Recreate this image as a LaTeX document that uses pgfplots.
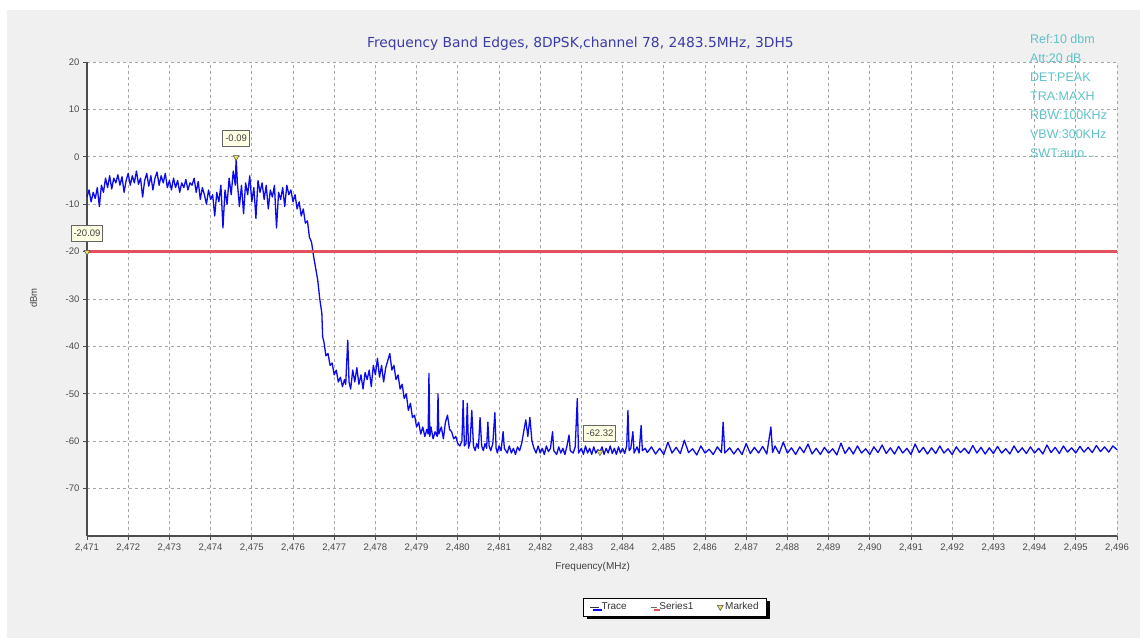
\documentclass[border=0pt]{standalone}
\usepackage{pgfplots}
\pgfplotsset{compat=1.18}
\usepackage{fontspec}
\setmainfont{Liberation Sans}
\newfontfamily\titlefont{DejaVu Sans}
\usetikzlibrary{shadows}
\definecolor{panel}{RGB}{240,240,240}
\definecolor{tracecol}{RGB}{10,10,235}
\definecolor{limitcol}{RGB}{228,80,92}
\definecolor{infocol}{RGB}{95,195,200}
\definecolor{titlecol}{RGB}{60,60,165}
\definecolor{gridcol}{RGB}{165,165,165}
\definecolor{markfill}{RGB}{235,225,90}
\definecolor{boxfill}{RGB}{255,255,228}
\begin{document}
\begin{tikzpicture}[x=1pt,y=1pt]
\path[use as bounding box] (0,0) rectangle (1147,642);
\fill[panel] (7,4) rectangle (1140,632);
\begin{axis}[
  at={(87pt,106pt)}, anchor=south west, scale only axis,
  width=1030pt, height=474pt,
  xmin=0, xmax=25, ymin=-80, ymax=20,
  clip=false,
  axis background/.style={fill=white},
  axis x line*=bottom, axis y line*=left,
  axis line style={line width=2.4pt, color=black!70, -},
  tick align=outside, major tick length=4pt,
  tick style={color=black!70, line width=0.6pt},
  grid=major,
  major grid style={gridcol, dash pattern=on 3pt off 3pt, line width=0.7pt},
  xtick={0,1,...,25},
  xticklabels={{2,471},{2,472},{2,473},{2,474},{2,475},{2,476},{2,477},{2,478},{2,479},{2,480},{2,481},{2,482},{2,483},{2,484},{2,485},{2,486},{2,487},{2,488},{2,489},{2,490},{2,491},{2,492},{2,493},{2,494},{2,495},{2,496}},
  ytick={-70,-60,-50,-40,-30,-20,-10,0,10,20},
  yticklabels={-70,-60,-50,-40,-30,-20,-10,0,10,20},
  tick label style={font=\fontsize{9.5}{11}\selectfont, text=black!70},
  xlabel={Frequency(MHz)},
  xlabel style={at={(axis description cs:0.491,-0.065)}, anchor=center, font=\fontsize{10}{12}\selectfont, text=black!75},
  ylabel={dBm},
  ylabel style={at={(axis description cs:-0.052,0.502)}, anchor=center, font=\fontsize{9.5}{11}\selectfont, text=black!75},
  legend columns=3,
  legend style={at={(axis description cs:0.571,-0.150)}, anchor=center,
    draw=black, fill=white, font=\fontsize{10}{12}\selectfont, text=black!80,
    drop shadow={shadow xshift=3pt, shadow yshift=-3pt, opacity=1, fill=black},
    inner xsep=6pt, inner ysep=2.5pt,
    /tikz/every even column/.append style={column sep=22pt}},
]
\addplot[tracecol, line width=1.3pt, line join=round,
  legend image code/.code={\draw[black!80, line width=0.9pt] (0pt,0pt) -- (9pt,0pt);}]
table {
x y
0.00 -8.5
0.05 -7.0
0.10 -9.5
0.15 -7.5
0.20 -8.8
0.25 -6.5
0.30 -10.5
0.35 -6.0
0.40 -7.5
0.45 -4.5
0.50 -6.5
0.55 -4.0
0.60 -6.8
0.65 -4.5
0.70 -5.5
0.75 -3.8
0.80 -6.0
0.85 -4.2
0.90 -7.5
0.95 -5.0
1.00 -3.5
1.05 -6.0
1.10 -4.0
1.15 -5.5
1.20 -3.0
1.25 -5.8
1.30 -4.5
1.35 -8.5
1.40 -5.0
1.45 -3.5
1.50 -6.2
1.55 -4.0
1.60 -7.0
1.65 -4.5
1.70 -3.2
1.75 -6.0
1.80 -4.0
1.85 -5.5
1.90 -3.5
1.95 -6.5
2.00 -5.0
2.05 -7.0
2.10 -4.5
2.15 -6.5
2.20 -5.0
2.25 -7.5
2.30 -5.5
2.35 -6.5
2.40 -4.8
2.45 -7.0
2.50 -5.5
2.55 -6.0
2.60 -4.5
2.65 -7.5
2.70 -5.2
2.75 -9.0
2.80 -6.5
2.85 -8.0
2.90 -10.0
2.95 -7.0
3.00 -9.0
3.05 -8.0
3.10 -12.5
3.15 -7.5
3.20 -9.5
3.25 -6.0
3.30 -15.0
3.35 -7.0
3.40 -10.0
3.45 -4.5
3.50 -8.0
3.55 -3.0
3.60 -6.0
3.62 -0.09
3.65 -5.5
3.70 -10.5
3.75 -6.0
3.80 -12.0
3.85 -5.5
3.90 -8.0
3.95 -4.0
4.00 -9.5
4.05 -6.5
4.10 -13.0
4.15 -5.0
4.20 -7.5
4.25 -5.5
4.30 -9.0
4.35 -6.0
4.40 -11.0
4.45 -7.0
4.50 -8.5
4.55 -6.0
4.60 -15.0
4.65 -7.5
4.70 -9.0
4.75 -6.5
4.80 -10.5
4.85 -6.0
4.90 -8.0
4.95 -7.0
5.00 -9.5
5.05 -8.0
5.10 -11.0
5.15 -9.5
5.20 -12.5
5.25 -11.0
5.30 -14.0
5.35 -13.5
5.40 -17.0
5.45 -18.0
5.50 -21.0
5.55 -23.5
5.60 -26.0
5.65 -30.0
5.70 -33.0
5.72 -38.0
5.75 -39.0
5.80 -42.0
5.85 -41.5
5.90 -44.0
5.95 -43.5
6.00 -46.0
6.05 -45.0
6.10 -47.5
6.15 -46.5
6.20 -48.5
6.25 -47.0
6.28 -48.0
6.30 -44.0
6.33 -38.7
6.36 -47.5
6.40 -49.0
6.45 -45.0
6.50 -47.5
6.55 -44.5
6.60 -48.0
6.65 -46.0
6.70 -49.0
6.75 -45.5
6.80 -47.0
6.85 -45.0
6.90 -48.5
6.95 -44.0
7.00 -46.0
7.05 -42.5
7.10 -46.5
7.15 -44.0
7.20 -47.5
7.25 -44.5
7.30 -43.0
7.35 -41.5
7.40 -45.0
7.45 -44.0
7.50 -47.0
7.55 -46.0
7.60 -49.0
7.65 -48.0
7.70 -51.0
7.75 -50.0
7.80 -53.5
7.85 -52.0
7.90 -55.0
7.95 -54.5
8.00 -57.0
8.05 -56.0
8.10 -58.5
8.15 -57.0
8.20 -59.0
8.25 -57.5
8.28 -58.5
8.30 -45.7
8.32 -59.0
8.35 -57.0
8.40 -59.5
8.45 -58.0
8.50 -59.0
8.52 -50.0
8.54 -58.5
8.60 -57.0
8.65 -59.5
8.70 -56.0
8.75 -54.5
8.80 -57.5
8.85 -58.0
8.90 -59.5
8.95 -59.0
9.00 -60.5
9.05 -61.0
9.10 -60.0
9.13 -51.4
9.16 -61.0
9.20 -60.5
9.23 -52.0
9.26 -61.5
9.30 -60.0
9.34 -53.5
9.38 -61.0
9.42 -62.0
9.46 -60.5
9.50 -61.5
9.54 -55.0
9.58 -61.0
9.62 -62.0
9.66 -60.5
9.70 -61.5
9.73 -56.0
9.76 -61.0
9.80 -62.0
9.85 -60.5
9.90 -54.0
9.93 -61.5
9.96 -62.5
10.00 -61.0
10.05 -62.0
10.10 -58.0
10.13 -61.5
10.20 -62.5
10.25 -61.0
10.30 -62.5
10.35 -61.5
10.40 -62.8
10.45 -61.2
10.50 -62.0
10.55 -60.5
10.60 -58.0
10.65 -55.5
10.70 -59.0
10.75 -55.0
10.80 -60.0
10.85 -61.5
10.90 -62.5
10.95 -61.0
11.00 -62.5
11.05 -61.5
11.10 -62.8
11.15 -61.0
11.20 -62.2
11.25 -61.5
11.30 -58.0
11.33 -62.0
11.40 -62.8
11.45 -61.2
11.50 -62.5
11.55 -61.5
11.60 -62.8
11.65 -61.0
11.70 -58.7
11.73 -62.0
11.80 -62.5
11.85 -61.2
11.90 -51.0
11.93 -62.5
12.00 -61.5
12.05 -62.8
12.10 -61.0
12.15 -62.5
12.20 -61.5
12.25 -62.8
12.30 -61.2
12.35 -62.5
12.40 -61.8
12.45 -62.3
12.50 -61.2
12.55 -62.8
12.60 -61.5
12.65 -62.5
12.70 -61.0
12.75 -62.6
12.80 -61.5
12.85 -62.8
12.90 -61.2
12.95 -62.5
13.00 -61.5
13.05 -62.6
13.10 -61.0
13.13 -53.5
13.16 -62.0
13.20 -61.5
13.25 -58.0
13.28 -62.5
13.35 -61.2
13.40 -62.5
13.45 -56.7
13.48 -62.0
13.55 -61.5
13.60 -62.4
13.70 -61.2
13.80 -62.7
13.90 -61.5
14.00 -62.8
14.10 -60.2
14.20 -62.5
14.30 -61.3
14.40 -62.6
14.50 -59.8
14.60 -62.4
14.70 -61.6
14.80 -62.9
14.90 -61.0
15.00 -62.5
15.10 -61.7
15.20 -62.8
15.30 -61.2
15.40 -62.4
15.44 -56.0
15.48 -62.5
15.60 -61.4
15.70 -62.7
15.80 -61.5
15.90 -62.8
16.00 -60.5
16.10 -62.6
16.20 -61.3
16.30 -62.5
16.40 -61.1
16.50 -62.7
16.60 -57.0
16.64 -62.4
16.70 -61.0
16.80 -62.6
16.90 -60.2
17.00 -62.5
17.10 -61.4
17.20 -62.8
17.30 -61.2
17.40 -62.4
17.50 -60.6
17.60 -62.7
17.70 -61.5
17.80 -62.8
17.90 -61.3
18.00 -62.5
18.10 -61.6
18.20 -62.9
18.30 -60.4
18.40 -62.6
18.50 -61.3
18.60 -62.7
18.70 -61.0
18.80 -62.5
18.90 -61.6
19.00 -62.8
19.10 -61.2
19.20 -62.4
19.30 -60.8
19.40 -62.6
19.50 -61.4
19.60 -62.7
19.70 -61.1
19.80 -62.5
19.90 -61.5
20.00 -62.8
20.10 -60.6
20.20 -62.4
20.30 -61.3
20.40 -62.7
20.50 -61.4
20.60 -62.6
20.70 -61.0
20.80 -62.5
20.90 -61.6
21.00 -62.8
21.10 -61.2
21.20 -62.4
21.30 -61.5
21.40 -62.6
21.50 -60.9
21.60 -62.5
21.70 -61.3
21.80 -62.7
21.90 -61.4
22.00 -62.6
22.10 -61.1
22.20 -62.5
22.30 -61.6
22.40 -62.7
22.50 -61.0
22.60 -62.4
22.70 -61.4
22.80 -62.6
22.90 -61.2
23.00 -62.5
23.10 -61.5
23.20 -62.7
23.30 -60.8
23.40 -62.4
23.50 -61.3
23.60 -62.6
23.70 -61.0
23.80 -62.3
23.90 -61.4
24.00 -62.5
24.10 -61.1
24.20 -62.3
24.30 -61.3
24.40 -62.4
24.50 -60.9
24.60 -62.2
24.70 -61.2
24.80 -62.3
24.90 -61.0
25.00 -61.8
};
\addlegendentry{Trace}
\addplot[limitcol, line width=2.2pt,
  legend image code/.code={\draw[black!60, line width=0.7pt] (0pt,0pt) -- (6pt,0pt);}]
coordinates {(0,-20) (25,-20)};
\addlegendentry{Series1}
\addplot[only marks, mark=triangle*, mark size=3.4pt,
  mark options={rotate=180, fill=markfill, draw=black!70, line width=0.5pt}]
coordinates {(3.62,-0.09) (0,-20.09) (12.45,-62.32)};
\addlegendentry{Marked}
\node[draw=black!60, fill=boxfill, line width=1pt, font=\fontsize{9.5}{11}\selectfont,
  inner sep=2.5pt, minimum height=16pt, anchor=south, yshift=10pt, text=black!75]
  at (axis cs:3.62,-0.09) {-0.09};
\node[draw=black!60, fill=boxfill, line width=1pt, font=\fontsize{9.5}{11}\selectfont,
  inner sep=2.5pt, minimum height=16pt, anchor=south, yshift=10pt, text=black!75]
  at (axis cs:0,-20.09) {-20.09};
\node[draw=black!60, fill=boxfill, line width=1pt, font=\fontsize{9.5}{11}\selectfont,
  inner sep=2.5pt, minimum height=16pt, anchor=south, yshift=10pt, text=black!75]
  at (axis cs:12.45,-62.32) {-62.32};
\node[font=\titlefont\fontsize{13.8}{16}\selectfont, text=titlecol]
  at (axis description cs:0.479,1.038) {Frequency Band Edges, 8DPSK,channel 78, 2483.5MHz, 3DH5};
\node[anchor=north west, align=left, font=\fontsize{12.5}{19}\selectfont, text=infocol, inner sep=0pt]
  at (axis description cs:0.9155,1.059) {Ref:10 dbm\\Att:20 dB\\DET:PEAK\\TRA:MAXH\\RBW:100KHz\\VBW:300KHz\\SWT:auto...};
\end{axis}
\end{tikzpicture}
\end{document}
